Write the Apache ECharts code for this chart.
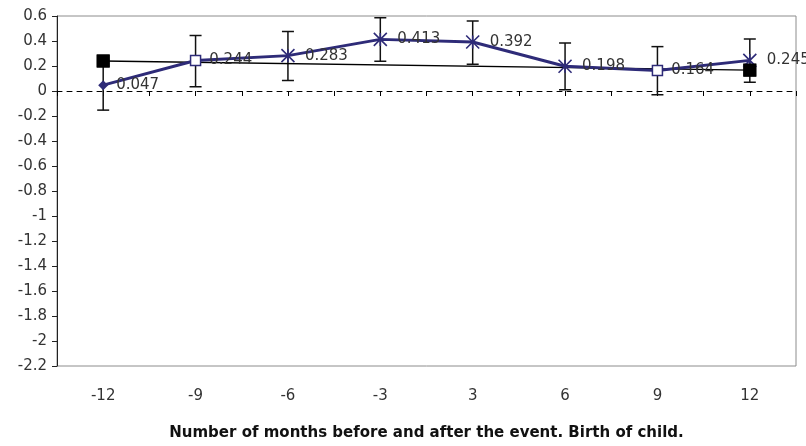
<!DOCTYPE html>
<html>
<head>
<meta charset="utf-8">
<script src="https://cdn.jsdelivr.net/npm/echarts@6/dist/echarts.min.js"></script>
<style>
html,body{margin:0;padding:0;background:#fff;}
#chart{width:806px;height:446px;}
</style>
</head>
<body>
<div id="chart"></div>
<script>
// ---- data ----
const categories = ['-12', '-9', '-6', '-3', '3', '6', '9', '12'];
const meanValues = [0.047, 0.244, 0.283, 0.413, 0.392, 0.198, 0.164, 0.245];
const upperValues = [0.247, 0.444, 0.476, 0.586, 0.560, 0.384, 0.355, 0.416];
const lowerValues = [-0.153, 0.034, 0.084, 0.238, 0.214, 0.010, -0.030, 0.070];
const trendValues = [0.240, null, null, null, null, null, null, 0.167];
const yTicks = { min: -2.2, max: 0.6, step: 0.2 };
const xTitle = 'Number of months before and after the event. Birth of child.';

// ---- styles ----
const NAVY = '#2e2b78';
const ASTERISK = 'path://M0,0L10,10M10,0L0,10M5,0L5,10';
const markerKinds = ['diamond', 'openSquare', 'star', 'star', 'star', 'star', 'openSquare', 'star'];
function markerStyle(kind) {
  if (kind === 'diamond') return { symbol: 'diamond', symbolSize: 10, itemStyle: { color: NAVY, borderWidth: 0 } };
  if (kind === 'openSquare') return { symbol: 'rect', symbolSize: 10, itemStyle: { color: '#fff', borderColor: NAVY, borderWidth: 1.5 } };
  return { symbol: ASTERISK, symbolSize: 13, itemStyle: { color: 'none', borderColor: NAVY, borderWidth: 1.6 } };
}

const meanData = meanValues.map((v, i) => Object.assign({ value: v }, markerStyle(markerKinds[i])));
const errData = categories.map((c, i) => [i, lowerValues[i], upperValues[i]]);

const chart = echarts.init(document.getElementById('chart'), null, { renderer: 'canvas' });
const FONT = 'DejaVu Sans';

chart.setOption({
  animation: false,
  backgroundColor: '#fff',
  grid: { left: 57, right: 10, top: 16, bottom: 73, show: true, borderColor: '#8c8c8c', borderWidth: 1, backgroundColor: 'transparent' },
  xAxis: [
    {
      type: 'category',
      data: categories,
      position: 'bottom',
      axisLine: { show: false, onZero: false },
      axisTick: { show: false },
      axisLabel: { color: '#333', fontFamily: FONT, fontSize: 15, margin: 23 },
      name: xTitle,
      nameLocation: 'middle',
      nameGap: 60,
      nameTextStyle: { color: '#111', fontFamily: FONT, fontWeight: 'bold', fontSize: 15 }
    },
    {
      type: 'value',
      min: 0, max: 8, interval: 0.5,
      position: 'bottom',
      axisLine: { show: true, onZero: true, lineStyle: { color: '#000', width: 1, type: [5, 5] } },
      axisTick: { show: true, length: 5, lineStyle: { color: '#000', width: 1 } },
      axisLabel: { show: false },
      splitLine: { show: false }
    }
  ],
  yAxis: {
    type: 'value',
    min: yTicks.min, max: yTicks.max, interval: yTicks.step,
    axisLine: { show: true, onZero: false, lineStyle: { color: '#222', width: 1 } },
    axisTick: { show: true, length: 5, lineStyle: { color: '#222' } },
    splitLine: { show: false },
    axisLabel: {
      color: '#333', fontFamily: FONT, fontSize: 15, margin: 10,
      formatter: v => String(parseFloat(v.toFixed(1)))
    }
  },
  series: [
    {
      type: 'custom',
      name: 'error',
      xAxisIndex: 0, yAxisIndex: 0,
      z: 1,
      data: errData,
      renderItem: function (params, api) {
        const lo = api.coord([api.value(0), api.value(1)]);
        const hi = api.coord([api.value(0), api.value(2)]);
        const w = 6;
        const st = { stroke: '#111', lineWidth: 1.5 };
        return {
          type: 'group',
          children: [
            { type: 'line', shape: { x1: hi[0], y1: hi[1], x2: lo[0], y2: lo[1] }, style: st },
            { type: 'line', shape: { x1: hi[0] - w, y1: hi[1], x2: hi[0] + w, y2: hi[1] }, style: st },
            { type: 'line', shape: { x1: lo[0] - w, y1: lo[1], x2: lo[0] + w, y2: lo[1] }, style: st }
          ]
        };
      }
    },
    {
      type: 'line',
      name: 'trend',
      xAxisIndex: 0, yAxisIndex: 0,
      z: 2,
      data: trendValues,
      connectNulls: true,
      symbol: 'rect',
      symbolSize: 13,
      showSymbol: true,
      itemStyle: { color: '#000' },
      lineStyle: { color: '#000', width: 1.5 }
    },
    {
      type: 'line',
      name: 'mean',
      xAxisIndex: 0, yAxisIndex: 0,
      z: 3,
      data: meanData,
      showAllSymbol: true,
      lineStyle: { color: NAVY, width: 3 },
      label: {
        show: true, position: 'right', distance: 8,
        color: '#333', fontFamily: FONT, fontSize: 15,
        formatter: p => p.value.toFixed(3)
      }
    },
    {
      type: 'line',
      name: 'trendSquares',
      xAxisIndex: 0, yAxisIndex: 0,
      z: 4,
      data: trendValues,
      symbol: 'rect',
      symbolSize: 13,
      itemStyle: { color: '#000' },
      lineStyle: { width: 0, opacity: 0 }
    }
  ]
});
</script>
</body>
</html>
